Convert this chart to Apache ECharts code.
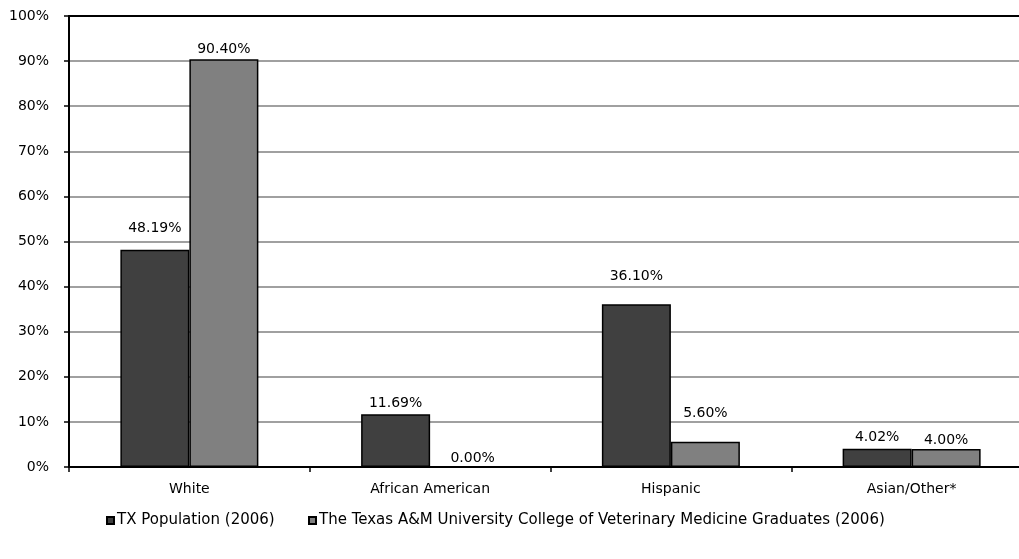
<!DOCTYPE html>
<html>
<head>
<meta charset="utf-8">
<script src="https://cdn.jsdelivr.net/npm/echarts@6/dist/echarts.min.js"></script>
<style>html,body{margin:0;padding:0;background:#fff;overflow:hidden;width:1019px;height:559px}#c{width:1040px;height:559px}</style>
</head>
<body>
<div id="c"></div>
<script>
var categories = ['White', 'African American', 'Hispanic', 'Asian/Other*'];
var seriesNames = ['TX Population (2006)', 'The Texas A&M University College of Veterinary Medicine Graduates (2006)'];
var txPopulation = [48.19, 11.69, 36.10, 4.02];
var tamuGraduates = [90.40, 0.00, 5.60, 4.00];
var yTicks = [0, 10, 20, 30, 40, 50, 60, 70, 80, 90, 100];

// label placement (distance above bar top), mimicking the original
var distTx = [14, 4, 21, 5];
var distGrad = [3, 1, 21, 2];
var offGrad = [[0,0],[8,0],[0,0],[0,0]];

var FONT = 'DejaVu Sans';
var FS = 14;
var chart = echarts.init(document.getElementById('c'));

function mk(vals, dists, offs) {
  return vals.map(function (v, i) {
    return { value: v, label: { distance: dists[i], offset: offs ? offs[i] : [0, 0] } };
  });
}

chart.setOption({
  animation: false,
  textStyle: { fontFamily: FONT },
  grid: { left: 69, top: 16, height: 451, width: 963, containLabel: false },
  legend: [
    { data: [seriesNames[0]], left: 101, top: 508, itemWidth: 7, itemHeight: 7, itemGap: 0,
      textStyle: { fontFamily: FONT, fontSize: 15, color: '#000', padding: [0,0,0,-2] }, icon: 'rect' },
    { data: [seriesNames[1]], left: 303, top: 508, itemWidth: 7, itemHeight: 7, itemGap: 0,
      textStyle: { fontFamily: FONT, fontSize: 15, color: '#000', padding: [0,0,0,-2] }, icon: 'rect' }
  ],
  xAxis: [{
    type: 'category',
    data: categories,
    axisLine: { lineStyle: { color: '#000', width: 2 } },
    axisTick: { show: true, length: 5, lineStyle: { color: '#000', width: 1.5 }, alignWithLabel: false },
    axisLabel: { color: '#000', fontSize: FS, fontFamily: FONT, margin: 15 }
  }, {
    type: 'category',
    position: 'top',
    data: categories,
    axisLine: { show: true, lineStyle: { color: '#000', width: 2 } },
    axisTick: { show: false },
    axisLabel: { show: false }
  }],
  yAxis: {
    type: 'value',
    min: yTicks[0],
    max: yTicks[yTicks.length - 1],
    interval: 10,
    axisLine: { show: true, lineStyle: { color: '#000', width: 2 } },
    axisTick: { show: true, length: 5, lineStyle: { color: '#000', width: 1.5 } },
    axisLabel: { color: '#000', fontSize: FS, fontFamily: FONT, margin: 20, formatter: '{value}%' },
    splitLine: { show: true, lineStyle: { color: '#808080', width: 1.5 } }
  },
  series: [{
    name: seriesNames[0],
    type: 'bar',
    data: mk(txPopulation, distTx),
    barWidth: 69,
    barGap: '0%',
    itemStyle: { color: '#404040', borderColor: '#000', borderWidth: 1.5 },
    label: { show: true, position: 'top', color: '#000', fontSize: FS, fontFamily: FONT,
      formatter: function (p) { return p.value.toFixed(2) + '%'; } }
  }, {
    name: seriesNames[1],
    type: 'bar',
    data: mk(tamuGraduates, distGrad, offGrad),
    barWidth: 69,
    barGap: '0%',
    itemStyle: { color: '#808080', borderColor: '#000', borderWidth: 1.5 },
    label: { show: true, position: 'top', color: '#000', fontSize: FS, fontFamily: FONT,
      formatter: function (p) { return p.value.toFixed(2) + '%'; } }
  }]
});
</script>
</body>
</html>
